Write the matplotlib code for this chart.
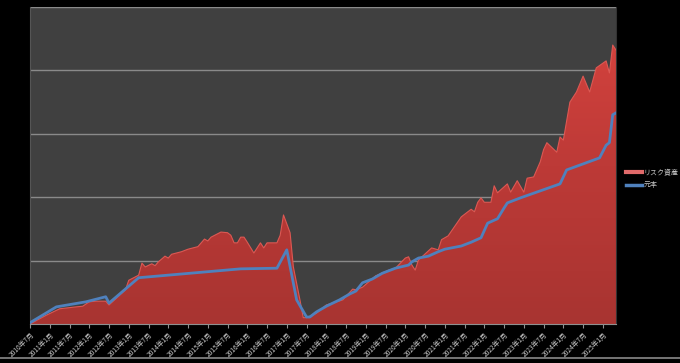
import matplotlib
matplotlib.use("Agg")
import matplotlib.pyplot as plt
import numpy as np
from matplotlib.colors import LinearSegmentedColormap
from matplotlib.lines import Line2D

plt.rcParams['font.family'] = ['Noto Sans CJK JP', 'DejaVu Sans']

# Month index 0 = 2010年7月
start_year, start_month = 2010, 7
n_months = 179  # 2010年7月 .. 2025年5月

# リスク資産 (risk assets) — (month index, value)
risk_months = [0, 5, 9, 14, 16, 18, 20, 23, 24, 29, 30, 33, 34, 35, 37, 38, 39, 41, 42, 43,
               46, 48, 51, 53, 54, 55, 58, 60, 61, 62, 63, 64, 65, 66, 68, 70, 71, 72, 75, 76,
               77, 79, 80, 82, 83, 84, 87, 90, 95, 98, 99, 101, 105, 109, 111, 114, 115, 116, 117, 118,
               122, 124, 125, 127, 131, 134, 135, 136, 137, 138, 140, 141, 142, 145, 146, 148, 150, 151, 153, 155,
               156, 157, 160, 161, 162, 164, 166, 168, 170, 172, 175, 176, 177, 178]
risk_values = [0, 14, 24, 27, 28, 35, 36, 36, 30, 54, 69, 77, 96, 90, 95, 92, 98, 107, 104, 110,
               114, 118, 122, 134, 131, 137, 145, 144, 140, 128, 128, 137, 137, 129, 112, 128, 120, 128, 128, 140,
               172, 144, 90, 38, 10, 10, 17, 30, 38, 55, 54, 58, 76, 85, 88, 104, 106, 93, 85, 101,
               120, 117, 133, 139, 169, 181, 177, 192, 199, 192, 192, 218, 207, 221, 208, 226, 208, 230, 232, 256,
               275, 286, 271, 295, 290, 350, 366, 391, 366, 404, 415, 396, 440, 432]

# 元本 (principal) — (month index, value)
principal_months = [0, 8, 17, 23, 24, 33, 64, 75, 78, 81, 84, 85, 87, 90, 94, 97, 99, 101, 104, 107,
                    111, 115, 116, 118, 121, 124, 126, 128, 131, 134, 137, 139, 142, 144, 145, 149, 155, 161, 163, 173,
                    175, 176, 177, 178]
principal_values = [2, 27, 35, 43, 33, 73, 87, 88, 117, 38, 11, 11, 19, 28, 38, 47, 52, 65, 71, 80,
                    88, 93, 98, 104, 107, 114, 118, 120, 123, 129, 136, 159, 166, 183, 191, 199, 210, 221, 243, 262,
                    282, 286, 330, 333]

series_names = ['リスク資産', '元本']

# tick labels every 6 months
tick_idx = list(range(0, n_months, 6))
tick_labels = []
for i in tick_idx:
    y = start_year + (start_month - 1 + i) // 12
    m = (start_month - 1 + i) % 12 + 1
    tick_labels.append(f'{y}年{m}月')

fig = plt.figure(figsize=(6.8, 3.63), dpi=100, facecolor='black')
ax = fig.add_axes([30/680, 1-324/363, (616-30)/680, (324-7)/363])
ax.set_facecolor('#404040')

ymax = 500
ax.set_xlim(0, 178)
ax.set_ylim(0, ymax)

# gridlines
ax.set_yticks([0, 100, 200, 300, 400, 500])
ax.yaxis.grid(True, color='#8a8a8a', linewidth=1.0, zorder=0)
ax.set_axisbelow(True)
ax.tick_params(axis='y', length=0, labelleft=False)

# red area with vertical gradient
poly = ax.fill_between(risk_months, 0, risk_values, color='none', linewidth=0, zorder=2)
cmap = LinearSegmentedColormap.from_list('rg', ['#a83431', '#bd3a37', '#d8443f'])
grad = np.linspace(0, 1, 256).reshape(-1, 1)
im = ax.imshow(grad, extent=[0, 178, 0, ymax], origin='lower', aspect='auto', cmap=cmap, zorder=2)
im.set_clip_path(poly.get_paths()[0], transform=ax.transData)
ax.plot(risk_months, risk_values, color='#dc5853', linewidth=0.8, zorder=3)

ax.plot(principal_months, principal_values, color='#4f81bd', linewidth=2.0, zorder=4,
        solid_joinstyle='round')

ax.set_xticks(tick_idx)
ax.set_xticklabels(tick_labels, rotation=45, ha='right', rotation_mode='anchor',
                   fontsize=4.8, color='#c8c8c8')
ax.tick_params(axis='x', length=3, color='#909090', pad=2)

for s in ['top']:
    ax.spines[s].set_visible(False)
ax.spines['bottom'].set_color('#909090')
ax.spines['left'].set_color('#555555')
ax.spines['right'].set_color('#333333')

handles = [Line2D([0], [0], color='#e06a6a', linewidth=3),
           Line2D([0], [0], color='#4f81bd', linewidth=2.5)]
leg = fig.legend(handles, series_names, loc='center left', bbox_to_anchor=(620/680, 1-179/363),
                 frameon=False, fontsize=5, labelcolor='#c8c8c8', handlelength=2.2,
                 handletextpad=0.3, labelspacing=0.6)

fig.add_artist(Line2D([0, 1], [1-357.5/363, 1-357.5/363], color='#8a8a8a', linewidth=1.2))

fig.savefig('out.png', dpi=100, facecolor='black')
